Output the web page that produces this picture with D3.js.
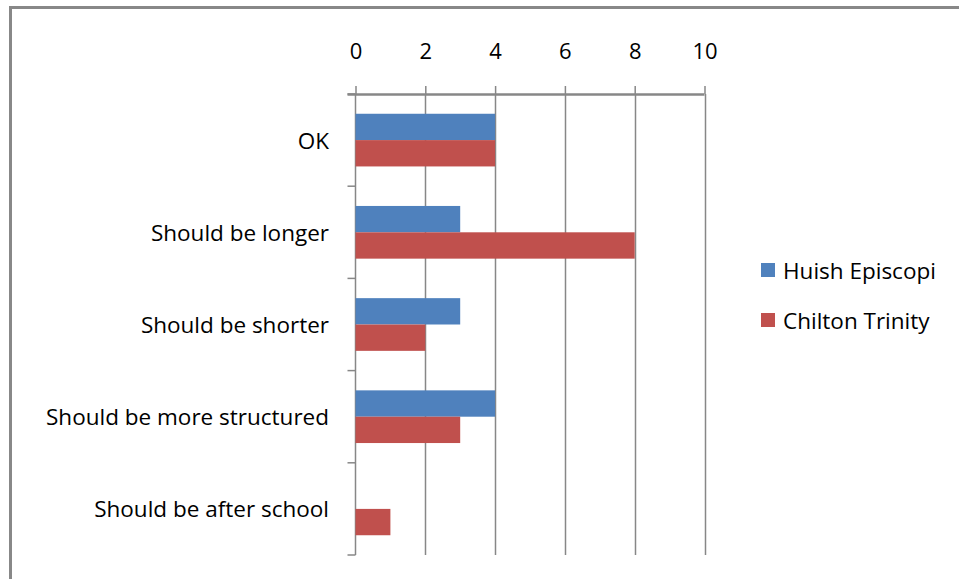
<!DOCTYPE html>
<html>
<head>
<meta charset="utf-8">
<script src="https://cdn.jsdelivr.net/npm/d3@7"></script>
<style>
  html, body { margin: 0; padding: 0; background: #fff; }
  svg { display: block; }
  text { font-family: "Open Sans", "Noto Sans", sans-serif; fill: #000; }
</style>
</head>
<body>
<div id="chart"></div>
<script>
// Survey responses by school
const categories = ["OK", "Should be longer", "Should be shorter", "Should be more structured", "Should be after school"];
const seriesNames = ["Huish Episcopi", "Chilton Trinity"];
const huishValues = [4, 3, 3, 4, 0];
const chiltonValues = [4, 8, 2, 3, 1];
const tickValues = [0, 2, 4, 6, 8, 10];
const colors = ["#4F81BD", "#C0504D"];

const W = 959, H = 579;
const plot = { left: 355.5, right: 704.5, top: 94, bottom: 555 };
const gridColor = "#878787";
const labelSize = 22.5;

const svg = d3.select("#chart").append("svg")
  .attr("width", W).attr("height", H);

// outer frame (top and left edges visible)
svg.append("line").attr("x1", 9).attr("x2", W).attr("y1", 7.5).attr("y2", 7.5)
  .attr("stroke", "#888").attr("stroke-width", 3);
svg.append("line").attr("x1", 10.5).attr("x2", 10.5).attr("y1", 6).attr("y2", H)
  .attr("stroke", "#888").attr("stroke-width", 3);

const x = d3.scaleLinear().domain([0, 10]).range([plot.left, plot.right]);
const y = d3.scaleBand().domain(categories).range([plot.top, plot.bottom])
  .paddingInner(0).paddingOuter(0);
const inner = d3.scaleBand().domain(seriesNames)
  .range([0, y.bandwidth()]).paddingInner(0).paddingOuter(0.75);

// vertical gridlines
svg.append("g").selectAll("line").data(tickValues.filter(d => d > 0)).join("line")
  .attr("x1", d => Math.round(x(d)) + 0.5).attr("x2", d => Math.round(x(d)) + 0.5)
  .attr("y1", plot.top).attr("y2", plot.bottom)
  .attr("stroke", gridColor).attr("stroke-width", 1.5);

// top value axis
const xAxis = d3.axisTop(x).tickValues(tickValues).tickSize(8).tickPadding(27)
  .tickFormat(d3.format("d"));
const gx = svg.append("g").attr("transform", `translate(0,${plot.top})`).call(xAxis);
gx.select(".domain").attr("d", `M${plot.left - 8},0.5H${plot.right}`)
  .attr("stroke", gridColor).attr("stroke-width", 2.5);
gx.selectAll(".tick line").attr("stroke", gridColor).attr("stroke-width", 1.5);
gx.selectAll(".tick text").attr("font-size", 22).attr("font-family", "Open Sans, sans-serif");

// left category axis, ticks on band boundaries
const boundaries = d3.range(categories.length + 1).map(i => plot.top + i * y.step());
svg.append("line").attr("x1", plot.left).attr("x2", plot.left)
  .attr("y1", plot.top).attr("y2", plot.bottom)
  .attr("stroke", gridColor).attr("stroke-width", 1.5);
svg.append("g").selectAll("line").data(boundaries).join("line")
  .attr("x1", plot.left - 8).attr("x2", plot.left)
  .attr("y1", d => d).attr("y2", d => d)
  .attr("stroke", gridColor).attr("stroke-width", 1.5);

// category labels
svg.append("g").selectAll("text").data(categories).join("text")
  .attr("x", 329).attr("y", d => y(d) + y.bandwidth() / 2)
  .attr("text-anchor", "end").attr("dominant-baseline", "central")
  .attr("font-size", labelSize)
  .text(d => d);

// bars
const rows = categories.map((c, i) => ({ cat: c, values: [huishValues[i], chiltonValues[i]] }));
const groups = svg.append("g").selectAll("g").data(rows).join("g")
  .attr("transform", d => `translate(0,${y(d.cat)})`);
groups.selectAll("rect")
  .data(d => d.values.map((v, j) => ({ series: seriesNames[j], value: v, j })))
  .join("rect")
  .attr("x", x(0))
  .attr("y", d => inner(d.series))
  .attr("width", d => x(d.value) - x(0))
  .attr("height", inner.bandwidth())
  .attr("fill", d => colors[d.j]);

// legend
const legend = svg.append("g").selectAll("g").data(seriesNames).join("g")
  .attr("transform", (d, i) => `translate(761,${270 + i * 50})`);
legend.append("rect").attr("x", 0).attr("y", -7).attr("width", 14).attr("height", 14)
  .attr("fill", (d, i) => colors[i]);
legend.append("text").attr("x", 22).attr("y", 0)
  .attr("dominant-baseline", "central").attr("font-size", labelSize)
  .text(d => d);
</script>
</body>
</html>
